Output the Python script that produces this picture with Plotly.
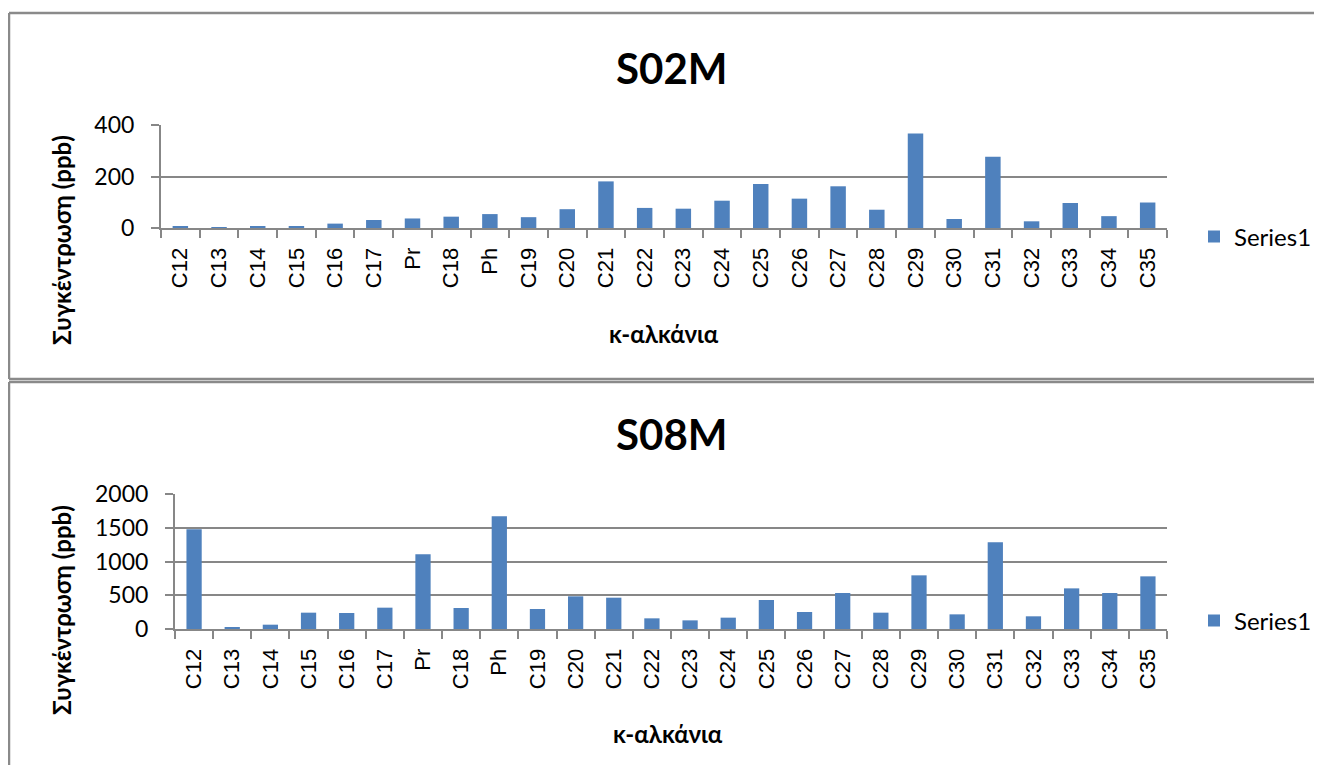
import plotly.graph_objects as go

# ---- data ----
categories = ["C12", "C13", "C14", "C15", "C16", "C17", "Pr", "C18", "Ph", "C19",
              "C20", "C21", "C22", "C23", "C24", "C25", "C26", "C27", "C28", "C29",
              "C30", "C31", "C32", "C33", "C34", "C35"]
s02m_values = [4, 1, 7, 7, 17, 31, 37, 44, 54, 42, 73, 181, 78, 75, 106, 171, 114,
               162, 71, 367, 35, 277, 26, 97, 46, 99]
s08m_values = [1476, 25, 64, 242, 237, 316, 1106, 311, 1669, 296, 484, 464, 158, 128,
               168, 430, 252, 533, 242, 795, 217, 1284, 188, 602, 533, 780]
series_name = "Series1"
top_title = "S02M"
bottom_title = "S08M"
x_title = "κ-αλκάνια"
y_title = "Συγκέντρωση (ppb)"

# ---- geometry helpers (image pixels -> paper coords) ----
OFF = 8          # default body margin of the page
W, H = 1306, 757


def px(x):
    return (x - OFF) / W


def py(y):
    return 1 - (y - OFF) / H


BAR = "#4F81BD"
GRID = "#878787"
BORDER = "#8a8a8a"
CAL = "Lato, 'Noto Sans', sans-serif"
ARIAL = "'Liberation Sans', Arial, sans-serif"

fig = go.Figure()
fig.add_trace(go.Bar(x=categories, y=s02m_values, name=series_name, marker_color=BAR,
                     xaxis="x", yaxis="y", legend="legend"))
fig.add_trace(go.Bar(x=categories, y=s08m_values, name=series_name, marker_color=BAR,
                     xaxis="x2", yaxis="y2", legend="legend2"))

xa = dict(type="category", showgrid=False, showline=True, linecolor=GRID, linewidth=2,
          ticks="outside", tickson="boundaries", ticklen=8, tickwidth=2, tickcolor=GRID,
          tickangle=-90, tickfont=dict(family=ARIAL, size=22, color="black"),
          ticklabelstandoff=9, automargin=False, fixedrange=True)
ya = dict(showgrid=True, gridcolor=GRID, gridwidth=2, showline=True, linecolor=GRID,
          linewidth=2, ticks="outside", ticklen=8, tickwidth=2, tickcolor=GRID,
          tickfont=dict(family=CAL, size=23, color="black"), zeroline=False,
          ticklabelstandoff=12, automargin=False, fixedrange=True)


def border_line(x0, y0, x1, y1):
    return dict(type="line", xref="paper", yref="paper", x0=px(x0), y0=py(y0),
                x1=px(x1), y1=py(y1), line=dict(color=BORDER, width=2.5), layer="below")


fig.update_layout(
    template="none",
    width=W, height=H, margin=dict(l=0, r=0, t=0, b=0, autoexpand=False),
    paper_bgcolor="white", plot_bgcolor="white",
    bargap=0.6, showlegend=True,
    xaxis=dict(xa, domain=[px(161), px(1167)], anchor="y"),
    yaxis=dict(ya, domain=[py(228), py(125)], range=[0, 400], dtick=200, anchor="x"),
    xaxis2=dict(xa, domain=[px(175), px(1167)], anchor="y2"),
    yaxis2=dict(ya, domain=[py(629), py(494)], range=[0, 2000], dtick=500, anchor="x2"),
    legend=dict(x=px(1194), y=py(237), xanchor="left", yanchor="middle",
                font=dict(family=CAL, size=24, color="black"), bgcolor="rgba(0,0,0,0)"),
    legend2=dict(x=px(1194), y=py(621), xanchor="left", yanchor="middle",
                 font=dict(family=CAL, size=24, color="black"), bgcolor="rgba(0,0,0,0)"),
    annotations=[
        dict(text=f"<b>{top_title}</b>", x=px(671), y=py(68), xref="paper", yref="paper",
             showarrow=False, xanchor="center", yanchor="middle",
             font=dict(family=CAL, size=42, color="black")),
        dict(text=f"<b>{bottom_title}</b>", x=px(671), y=py(434), xref="paper", yref="paper",
             showarrow=False, xanchor="center", yanchor="middle",
             font=dict(family=CAL, size=42, color="black")),
        dict(text=f"<b>{x_title}</b>", x=px(664), y=py(333), xref="paper", yref="paper",
             showarrow=False, xanchor="center", yanchor="middle",
             font=dict(family=CAL, size=24, color="black")),
        dict(text=f"<b>{x_title}</b>", x=px(668), y=py(733), xref="paper", yref="paper",
             showarrow=False, xanchor="center", yanchor="middle",
             font=dict(family=CAL, size=24, color="black")),
        dict(text=f"<b>{y_title}</b>", x=px(61), y=py(240), xref="paper", yref="paper",
             showarrow=False, xanchor="center", yanchor="middle", textangle=-90,
             font=dict(family=CAL, size=24, color="black")),
        dict(text=f"<b>{y_title}</b>", x=px(61), y=py(610), xref="paper", yref="paper",
             showarrow=False, xanchor="center", yanchor="middle", textangle=-90,
             font=dict(family=CAL, size=24, color="black")),
    ],
    shapes=[
        border_line(9, 13, 1330, 13),
        border_line(9, 13, 9, 379),
        border_line(9, 379, 1330, 379),
        border_line(9, 382, 1330, 382),
        border_line(9, 382, 9, 790),
    ],
)

fig.write_html("out.html")
